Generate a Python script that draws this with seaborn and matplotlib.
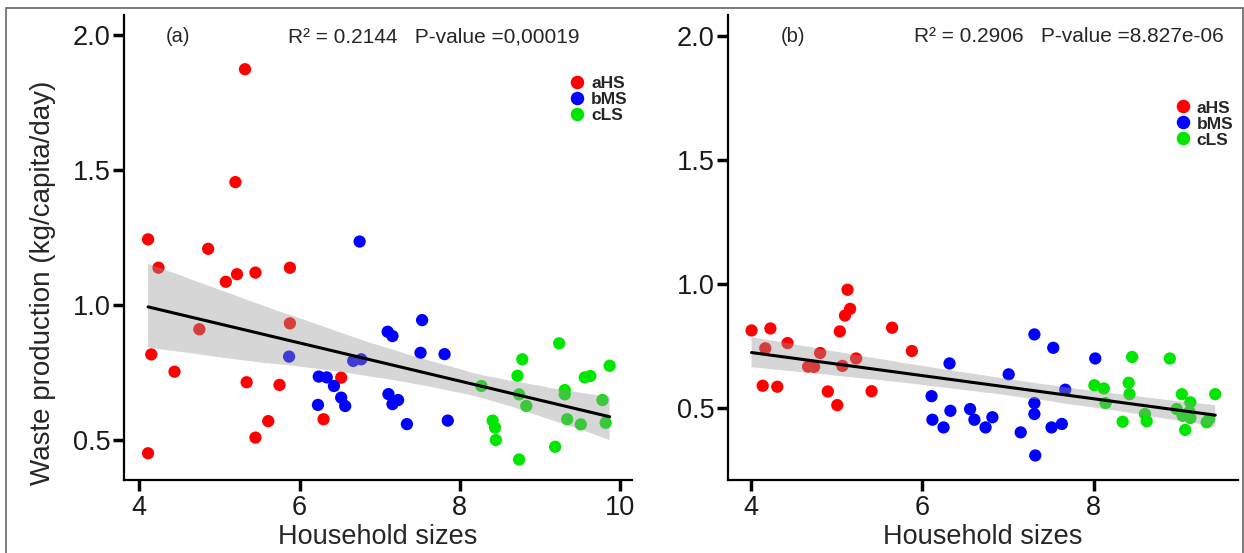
import matplotlib
matplotlib.use("Agg")
import matplotlib.pyplot as plt
import seaborn as sns
import pandas as pd
from matplotlib.patches import Rectangle

# === DATA ===
# panel (a)
a_hs_x = [5.32, 5.20, 4.11, 4.86, 4.24, 5.88, 5.22, 5.45, 5.08, 4.75,
          5.88, 4.15, 4.44, 5.34, 5.75, 6.52, 5.61, 5.45, 6.30, 4.11]
a_hs_y = [1.873, 1.455, 1.243, 1.208, 1.138, 1.138, 1.114, 1.120, 1.086, 0.910,
          0.932, 0.817, 0.753, 0.714, 0.704, 0.731, 0.570, 0.509, 0.577, 0.451]
a_ms_x = [6.75, 7.53, 7.10, 7.16, 5.87, 6.67, 6.77, 7.51, 7.81, 6.24,
          6.34, 6.43, 6.52, 6.57, 6.23, 7.11, 7.16, 7.23, 7.34, 7.85]
a_ms_y = [1.235, 0.944, 0.901, 0.885, 0.809, 0.793, 0.799, 0.823, 0.818, 0.735,
          0.732, 0.700, 0.657, 0.626, 0.630, 0.670, 0.633, 0.648, 0.559, 0.572]
a_ls_x = [8.27, 8.72, 8.78, 9.24, 8.74, 8.83, 9.31, 9.31, 9.56, 9.63,
          9.87, 9.78, 9.34, 9.51, 9.82, 8.41, 8.44, 8.45, 9.19, 8.74]
a_ls_y = [0.700, 0.738, 0.799, 0.858, 0.669, 0.626, 0.685, 0.669, 0.732, 0.737,
          0.775, 0.648, 0.577, 0.558, 0.564, 0.572, 0.546, 0.500, 0.475, 0.428]

# panel (b)
b_hs_x = [4.01, 4.23, 4.43, 4.17, 4.14, 4.31, 4.81, 4.67, 4.74, 4.90,
          5.01, 5.07, 5.23, 5.04, 5.10, 5.16, 5.13, 5.41, 5.65, 5.88]
b_hs_y = [0.813, 0.821, 0.762, 0.741, 0.590, 0.586, 0.722, 0.667, 0.666, 0.567,
          0.512, 0.670, 0.700, 0.809, 0.873, 0.900, 0.977, 0.568, 0.824, 0.730]
b_ms_x = [6.11, 6.32, 6.12, 6.25, 6.33, 6.56, 6.61, 6.74, 6.82, 7.01,
          7.15, 7.31, 7.31, 7.31, 7.32, 7.53, 7.51, 7.63, 7.67, 8.02]
b_ms_y = [0.548, 0.680, 0.453, 0.422, 0.489, 0.496, 0.453, 0.422, 0.463, 0.636,
          0.402, 0.797, 0.520, 0.476, 0.309, 0.743, 0.422, 0.436, 0.574, 0.700]
b_ls_x = [8.01, 8.12, 8.14, 8.34, 8.45, 8.41, 8.42, 8.60, 8.62, 8.89,
          9.03, 8.97, 9.04, 9.13, 9.13, 9.07, 9.32, 9.35, 9.42, 9.12]
b_ls_y = [0.592, 0.579, 0.520, 0.445, 0.706, 0.602, 0.556, 0.476, 0.447, 0.700,
          0.556, 0.496, 0.469, 0.523, 0.460, 0.412, 0.443, 0.456, 0.556, 0.485]

groups = ["aHS", "bMS", "cLS"]
colors = {"aHS": "#FF0000", "bMS": "#0000FF", "cLS": "#00E600"}

a_stats = "R² = 0.2144   P-value =0,00019"
b_stats = "R² = 0.2906   P-value =8.827e-06"


def make_df(xs, ys):
    parts = []
    for g, x, y in zip(groups, xs, ys):
        parts.append(pd.DataFrame({"size": x, "waste": y, "group": g}))
    return pd.concat(parts, ignore_index=True)


df_a = make_df([a_hs_x, a_ms_x, a_ls_x], [a_hs_y, a_ms_y, a_ls_y])
df_b = make_df([b_hs_x, b_ms_x, b_ls_x], [b_hs_y, b_ms_y, b_ls_y])

# === PLOTTING ===
sns.set_theme(style="ticks")
plt.rcParams["font.family"] = ["Liberation Sans", "DejaVu Sans"]

fig = plt.figure(figsize=(12.44, 5.53), dpi=100)
ax_a = fig.add_axes([0.0997, 0.132, 0.4084, 0.841])
ax_b = fig.add_axes([0.5852, 0.132, 0.4096, 0.841])

# thin frame around the whole figure
fig.patches.append(Rectangle((0.005, -0.01), 0.994, 0.995, transform=fig.transFigure,
                             fill=False, edgecolor="#666666", linewidth=1.2))

panels = [
    (ax_a, df_a, "(a)", a_stats, (3.81, 10.15), (0.352, 2.074), [4, 6, 8, 10],
     (0.106, 0.609), (0.858, 0.888)),
    (ax_b, df_b, "(b)", b_stats, (3.735, 9.68), (0.21, 2.085), [4, 6, 8],
     (0.858, 0.835)),
]
panels[1] = (ax_b, df_b, "(b)", b_stats, (3.735, 9.68), (0.21, 2.085), [4, 6, 8],
             (0.128, 0.669), (0.858, 0.835))

for ax, df, tag, stats, xlim, ylim, xticks, txt_x, leg_pos in panels:
    sns.scatterplot(data=df, x="size", y="waste", hue="group", palette=colors,
                    s=78, edgecolor="none", linewidth=0, ax=ax, zorder=2)
    sns.regplot(data=df, x="size", y="waste", scatter=False, ci=95, ax=ax,
                color="#999999", line_kws={"color": "black", "linewidth": 2.2, "zorder": 4})
    # band on top of the points, ggplot style
    for coll in ax.collections[1:]:
        coll.set_facecolor("#999999")
        coll.set_alpha(0.4)
        coll.set_zorder(3)
        coll.set_edgecolor("none")

    ax.set_xlim(*xlim)
    ax.set_ylim(*ylim)
    ax.set_xticks(xticks)
    ax.set_yticks([0.5, 1.0, 1.5, 2.0])
    ax.set_yticklabels(["0.5", "1.0", "1.5", "2.0"])

    sns.despine(ax=ax)
    for sp in ["left", "bottom"]:
        ax.spines[sp].set_linewidth(1.6)
        ax.spines[sp].set_color("black")
    ax.tick_params(axis="both", direction="out", length=8, width=2.5, color="black",
                   labelsize=19.5, labelcolor="#1a1a1a")
    ax.tick_params(axis="y", pad=1.5)
    ax.tick_params(axis="x", pad=3)

    ax.set_xlabel("Household sizes", fontsize=19.5, labelpad=2)
    ax.set_ylabel("")

    ax.text(txt_x[0], 0.953, tag, transform=ax.transAxes, ha="center", va="center",
            fontsize=14.5)
    ax.text(txt_x[1], 0.953, stats, transform=ax.transAxes, ha="center", va="center",
            fontsize=15)

    ax.legend(loc="upper left", bbox_to_anchor=leg_pos, frameon=False, title=None,
              prop={"weight": "bold", "size": 12.5}, handletextpad=0.3,
              labelspacing=0.05, borderpad=0, handlelength=1.0, markerscale=1.1)

ax_a.set_ylabel("Waste production (kg/capita/day)", fontsize=20)
ax_a.yaxis.set_label_coords(-0.134, 0.424)

fig.savefig("out.png", dpi=100)
